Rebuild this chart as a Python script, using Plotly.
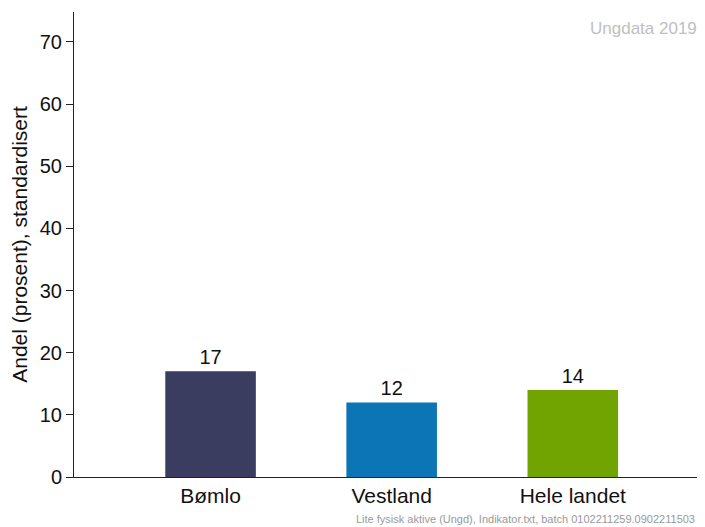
import plotly.graph_objects as go

categories = ["Bømlo", "Vestland", "Hele landet"]
values = [17, 12, 14]
labels = ["17", "12", "14"]
colors = ["#3A3C60", "#0C75B6", "#71A400"]

FONT = "Liberation Sans, Arial, sans-serif"

fig = go.Figure()
fig.add_trace(go.Bar(
    x=categories, y=values, width=0.5,
    marker=dict(color=colors, line=dict(width=0)),
    text=labels, textposition="outside",
    textfont=dict(size=20, color="#111111", family=FONT),
    cliponaxis=False,
))

fig.update_layout(
    width=697, height=519,
    margin=dict(l=66, r=0, t=4, b=50, autoexpand=False),
    paper_bgcolor="white", plot_bgcolor="white",
    font=dict(family=FONT, color="#111111"),
    showlegend=False,
)
fig.update_xaxes(
    range=[-0.754, 2.73], showline=True, linecolor="#222222", linewidth=1,
    ticks="", tickfont=dict(size=21), showgrid=False, zeroline=False,
)
fig.update_yaxes(
    range=[0, 74.8], tickvals=[0, 10, 20, 30, 40, 50, 60, 70],
    showline=True, linecolor="#222222", linewidth=1,
    ticks="outside", ticklen=7, tickcolor="#222222",
    tickfont=dict(size=20), showgrid=False, zeroline=False,
    title=dict(text="Andel (prosent), standardisert", font=dict(size=21), standoff=10),
)
fig.add_annotation(
    text="Ungdata 2019", xref="paper", yref="paper", x=0.99, y=1.0, yshift=-5,
    xanchor="right", yanchor="top", showarrow=False,
    font=dict(size=17, color="#C0C0C0"),
)
fig.add_annotation(
    text="Lite fysisk aktive (Ungd), Indikator.txt, batch 0102211259.0902211503",
    xref="paper", yref="paper", x=1.0, y=0, yshift=-50, xshift=-8,
    xanchor="right", yanchor="bottom", showarrow=False,
    font=dict(size=11, color="#999999"),
)
fig.write_html("out.html")
